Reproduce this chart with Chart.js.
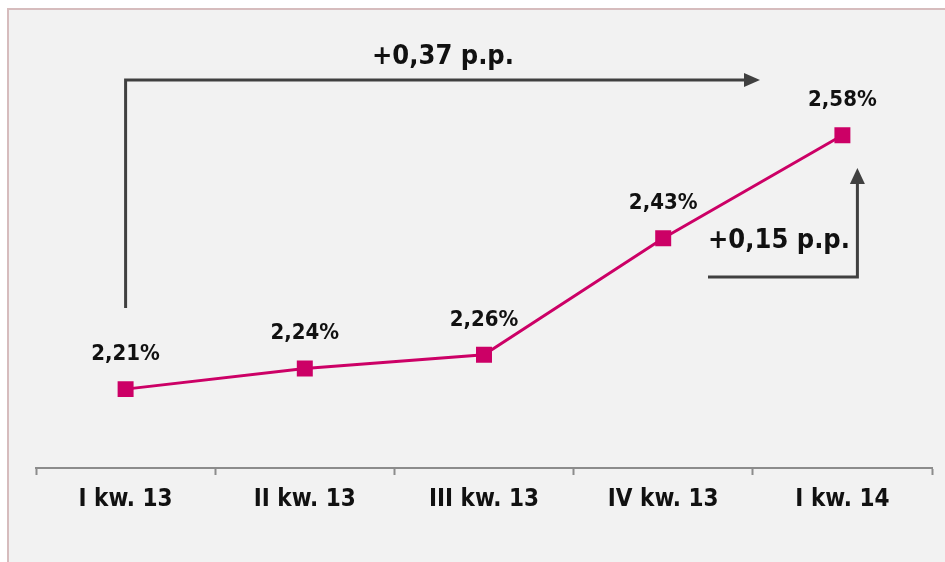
<!DOCTYPE html>
<html>
<head>
<meta charset="utf-8">
<script src="https://cdn.jsdelivr.net/npm/chart.js@4.4.1/dist/chart.umd.min.js"></script>
<style>
  html, body { margin: 0; padding: 0; background: #ffffff; }
  #wrap { position: relative; width: 945px; height: 562px; }
</style>
</head>
<body>
<div id="wrap"><canvas id="chart" width="945" height="562"></canvas></div>
<script>
// Dane wykresu
const categories = ['I kw. 13', 'II kw. 13', 'III kw. 13', 'IV kw. 13', 'I kw. 14'];
const shareValues = [2.21, 2.24, 2.26, 2.43, 2.58];

const FONT = "'DejaVu Sans Condensed', 'DejaVu Sans', sans-serif";
const LINE_COLOR = '#cc0066';
const ARROW_COLOR = '#404040';

function fmt(v, digits) {
    return v.toFixed(digits).replace('.', ',');
}

// Tlo i ramka
const backgroundPlugin = {
    id: 'panelBackground',
    beforeDraw(chart) {
        const ctx = chart.ctx;
        ctx.save();
        ctx.fillStyle = '#f2f2f2';
        ctx.fillRect(8, 9, chart.width - 8, chart.height - 9);
        ctx.strokeStyle = '#d6bcbd';
        ctx.lineWidth = 2;
        ctx.beginPath();
        ctx.moveTo(8, chart.height);
        ctx.lineTo(8, 9);
        ctx.lineTo(chart.width, 9);
        ctx.stroke();
        ctx.restore();
    }
};

// Etykiety wartosci nad punktami
const valueLabelsPlugin = {
    id: 'valueLabels',
    afterDatasetsDraw(chart) {
        const ctx = chart.ctx;
        const meta = chart.getDatasetMeta(0);
        ctx.save();
        ctx.fillStyle = '#111111';
        ctx.font = 'bold 22px ' + FONT;
        ctx.textAlign = 'center';
        ctx.textBaseline = 'middle';
        meta.data.forEach((pt, i) => {
            ctx.fillText(fmt(shareValues[i], 2) + '%', pt.x, pt.y - 35);
        });
        ctx.restore();
    }
};

function arrowHead(ctx, x, y, dir) {
    ctx.beginPath();
    if (dir === 'right') {
        ctx.moveTo(x, y);
        ctx.lineTo(x - 16, y - 7);
        ctx.lineTo(x - 16, y + 7);
    } else {
        ctx.moveTo(x, y);
        ctx.lineTo(x - 7.5, y + 16);
        ctx.lineTo(x + 7.5, y + 16);
    }
    ctx.closePath();
    ctx.fill();
}

// Strzalki ze zmiana w p.p.
const arrowsPlugin = {
    id: 'changeArrows',
    afterDraw(chart) {
        const ctx = chart.ctx;
        const meta = chart.getDatasetMeta(0);
        const first = meta.data[0];
        const prev = meta.data[shareValues.length - 2];
        const last = meta.data[shareValues.length - 1];
        const totalDiff = shareValues[shareValues.length - 1] - shareValues[0];
        const lastDiff = shareValues[shareValues.length - 1] - shareValues[shareValues.length - 2];

        ctx.save();
        ctx.strokeStyle = ARROW_COLOR;
        ctx.fillStyle = ARROW_COLOR;
        ctx.lineWidth = 3;

        // duza strzalka od I kw. 13
        ctx.beginPath();
        ctx.moveTo(first.x, 308);
        ctx.lineTo(first.x, 80);
        ctx.lineTo(745, 80);
        ctx.stroke();
        arrowHead(ctx, 760, 80, 'right');

        // mala strzalka do I kw. 14
        const vx = last.x + 15;
        ctx.beginPath();
        ctx.moveTo(708, 277);
        ctx.lineTo(vx, 277);
        ctx.lineTo(vx, 182);
        ctx.stroke();
        arrowHead(ctx, vx, 168, 'up');

        ctx.fillStyle = '#111111';
        ctx.font = 'bold 27px ' + FONT;
        ctx.textAlign = 'center';
        ctx.textBaseline = 'middle';
        ctx.fillText('+' + fmt(totalDiff, 2) + ' p.p.', 443, 57);
        ctx.fillText('+' + fmt(lastDiff, 2) + ' p.p.', 779, 241);
        ctx.restore();
    }
};

new Chart(document.getElementById('chart'), {
    type: 'line',
    data: {
        labels: categories,
        datasets: [{
            data: shareValues,
            borderColor: LINE_COLOR,
            backgroundColor: LINE_COLOR,
            borderWidth: 3,
            pointStyle: 'rect',
            pointRadius: 11.3,
            pointHoverRadius: 11.3,
            pointBorderWidth: 0,
            tension: 0
        }]
    },
    options: {
        responsive: false,
        animation: false,
        layout: { padding: { left: 36, right: 13, top: 53, bottom: 0 } },
        plugins: {
            legend: { display: false },
            tooltip: { enabled: false }
        },
        scales: {
            x: {
                offset: true,
                grid: {
                    offset: true,
                    drawOnChartArea: false,
                    drawTicks: true,
                    tickLength: 7,
                    tickWidth: 2,
                    color: '#8c8c8c'
                },
                border: { display: true, color: '#8c8c8c', width: 2 },
                ticks: {
                    color: '#111111',
                    padding: 10,
                    font: { family: FONT, size: 24, weight: 'bold' }
                },
                afterFit(scale) { scale.height = 94; }
            },
            y: {
                display: false,
                min: 2.095,
                max: 2.7
            }
        }
    },
    plugins: [backgroundPlugin, valueLabelsPlugin, arrowsPlugin]
});
</script>
</body>
</html>
